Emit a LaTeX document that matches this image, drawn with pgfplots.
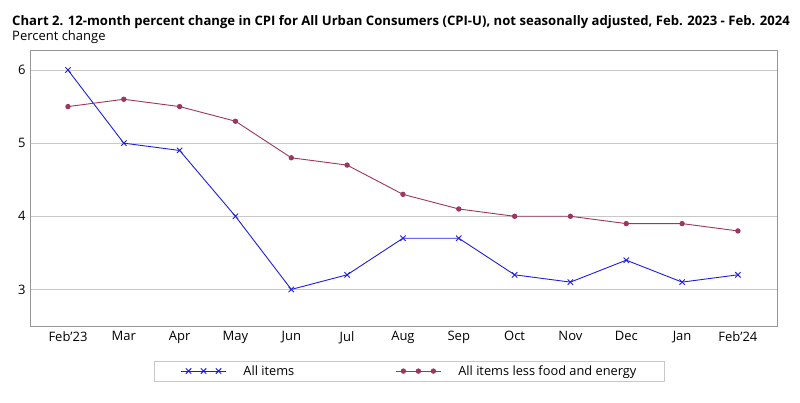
\documentclass[border=0pt]{standalone}
\usepackage{pgfplots}
\pgfplotsset{compat=1.18}
\usepackage{fontspec}
\setmainfont{Open Sans}
\definecolor{allc}{RGB}{30,30,225}
\definecolor{corec}{RGB}{155,55,95}
\definecolor{gridc}{RGB}{200,200,200}
\definecolor{framec}{RGB}{150,150,150}
\begin{document}
\begin{tikzpicture}
\path[use as bounding box] (0pt,0pt) rectangle (800pt,402pt);
\node[anchor=base west,inner sep=0,font=\fontsize{13.1}{15}\selectfont\bfseries] at (12pt,376pt) {Chart 2. 12-month percent change in CPI for All Urban Consumers (CPI-U), not seasonally adjusted, Feb. 2023 - Feb. 2024};
\node[anchor=base west,inner sep=0,font=\fontsize{13}{15}\selectfont] at (12pt,361pt) {Percent change};
\begin{axis}[
  at={(30pt,76pt)}, anchor=south west,
  scale only axis, width=747pt, height=275pt,
  xmin=-0.68, xmax=12.7, ymin=2.5, ymax=6.26,
  xtick={0,...,12},
  xticklabels={Feb'23,Mar,Apr,May,Jun,Jul,Aug,Sep,Oct,Nov,Dec,Jan,Feb'24},
  ytick={3,4,5,6},
  ymajorgrids, grid style={gridc, line width=0.8pt},
  axis line style={framec, line width=1pt},
  major tick length=0pt,
  tick label style={font=\fontsize{13}{15}\selectfont},
  /pgf/number format/assume math mode=true,
  xticklabel style={yshift=-2pt},
  yticklabel style={xshift=-1pt},
  legend columns=2,
  legend style={at={(0.508,-0.164)}, anchor=center, draw=gridc, line width=0.8pt,
    font=\fontsize{12.8}{14}\selectfont, inner xsep=26pt, inner ysep=2.5pt,
    /tikz/every even column/.style={column sep=0pt}},
  legend cell align=left,
  legend image code/.code={
    \draw[#1, mark=none] (0pt,0pt) -- (45pt,0pt);
    \draw[#1, only marks] plot coordinates {(7.5pt,0pt) (22.5pt,0pt) (37.5pt,0pt)};
  },
]
\addplot[allc, line width=0.9pt, mark=x, mark size=3.8pt, mark options={line width=0.9pt}] coordinates {
(0,6.0) (1,5.0) (2,4.9) (3,4.0) (4,3.0) (5,3.2) (6,3.7) (7,3.7) (8,3.2) (9,3.1) (10,3.4) (11,3.1) (12,3.2)};
\addlegendentry{\hspace{15pt}\makebox[150pt][l]{All items}}
\addplot[corec, line width=0.9pt, mark=*, mark size=2.2pt] coordinates {
(0,5.5) (1,5.6) (2,5.5) (3,5.3) (4,4.8) (5,4.7) (6,4.3) (7,4.1) (8,4.0) (9,4.0) (10,3.9) (11,3.9) (12,3.8)};
\addlegendentry{\hspace{15pt}All items less food and energy}
\end{axis}
\end{tikzpicture}
\end{document}
